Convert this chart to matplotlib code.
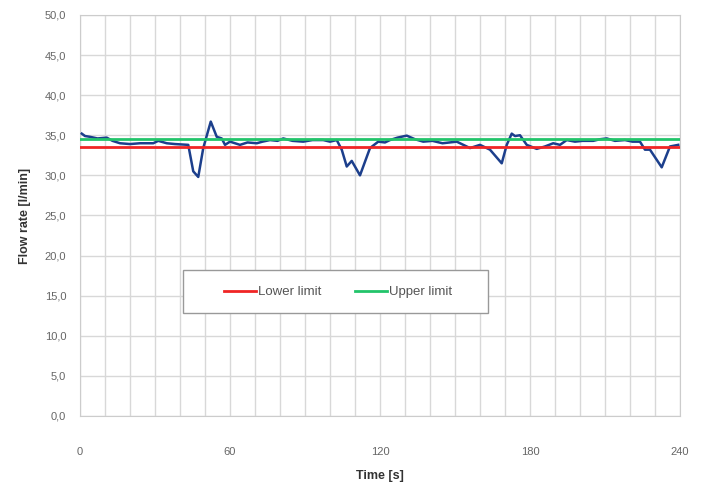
import numpy as np
import matplotlib.pyplot as plt
from matplotlib.patches import Rectangle

plt.rcParams['font.family'] = ['Liberation Sans', 'DejaVu Sans']

# flow rate (time in s, flow in l/min)
time_s = [0.7, 2, 4, 7, 10.7, 13, 16, 20, 24, 29.3, 31.3, 34.7, 38, 43.3,
          45.3, 47.3, 49.3, 52.3, 54.7, 56.7, 58, 60, 62, 64, 67, 70.7, 73,
          76, 79, 81.3, 85, 89.3, 93, 97.3, 100, 102.7, 104.7, 106.7, 108.7,
          112, 116, 119.3, 122, 124, 127, 130.7, 134, 137.3, 141, 145, 150.7,
          156, 160, 164, 168.7, 170.7, 172.7, 174, 176, 178.7, 182.7, 186,
          189.3, 192, 194.7, 198, 201, 205.3, 208, 210.7, 214, 218, 221, 224,
          226, 228, 232.7, 236, 239.3]
flow = [35.2, 34.9, 34.8, 34.6, 34.7, 34.3, 34.0, 33.9, 34.0, 34.0, 34.3,
        34.0, 33.9, 33.8, 30.5, 29.8, 33.4, 36.7, 34.8, 34.6, 33.8, 34.2,
        34.0, 33.8, 34.1, 34.0, 34.2, 34.4, 34.3, 34.6, 34.3, 34.2, 34.4,
        34.4, 34.2, 34.4, 33.2, 31.1, 31.8, 30.0, 33.4, 34.2, 34.1, 34.4,
        34.7, 34.95, 34.5, 34.2, 34.3, 34.0, 34.2, 33.4, 33.8, 33.2, 31.5,
        33.8, 35.2, 34.9, 35.0, 33.8, 33.3, 33.6, 34.0, 33.8, 34.4, 34.2,
        34.3, 34.3, 34.5, 34.6, 34.3, 34.4, 34.2, 34.2, 33.2, 33.2, 31.0,
        33.6, 33.8]

lower_limit = 33.5
upper_limit = 34.5
x_ticks = [0, 60, 120, 180, 240]
y_ticks = np.arange(0, 51, 5)

fig = plt.figure(figsize=(7.1, 4.97), dpi=100)
ax = fig.add_axes([0.1127, 0.163, 0.845, 0.807])

ax.plot(time_s, flow, color='#1c3f8c', lw=1.8, zorder=3)
ax.axhline(lower_limit, color='#f02525', lw=2, label='Lower limit', zorder=4)
ax.axhline(upper_limit, color='#22c46a', lw=2, label='Upper limit', zorder=4)

ax.set_xlim(0, 240)
ax.set_ylim(0, 50)
ax.set_xticks(x_ticks)
ax.set_xticks(np.arange(0, 241, 10), minor=True)
ax.set_yticks(y_ticks)
ax.set_yticklabels([f'{v:.1f}'.replace('.', ',') for v in y_ticks])
ax.grid(True, which='both', color='#d8d8d8', lw=1)
ax.set_axisbelow(True)
ax.tick_params(which='both', length=0, labelsize=8, labelcolor='#666666')
ax.tick_params(axis='x', pad=22)
ax.tick_params(axis='y', pad=10)
for s in ax.spines.values():
    s.set_color('#cccccc')

ax.set_xlabel('Time [s]', fontsize=9, fontweight='bold', color='#333333', labelpad=10)
ax.set_ylabel('Flow rate [l/min]', fontsize=9, fontweight='bold', color='#333333', labelpad=10)

# legend box drawn separately so it can be wider than the entries
ax.add_patch(Rectangle((0.1717, 0.257), 0.5083, 0.107, transform=ax.transAxes,
                       facecolor='white', edgecolor='#999999', lw=1, zorder=5))
leg = ax.legend(loc='center', bbox_to_anchor=(0.43, 0.309), ncol=2,
                fontsize=9.5, frameon=False, handlelength=2.4,
                handletextpad=0.15, columnspacing=2.6, borderaxespad=0)
leg.set_zorder(6)
for t in leg.get_texts():
    t.set_color('#555555')

fig.savefig('out.png', dpi=100)
